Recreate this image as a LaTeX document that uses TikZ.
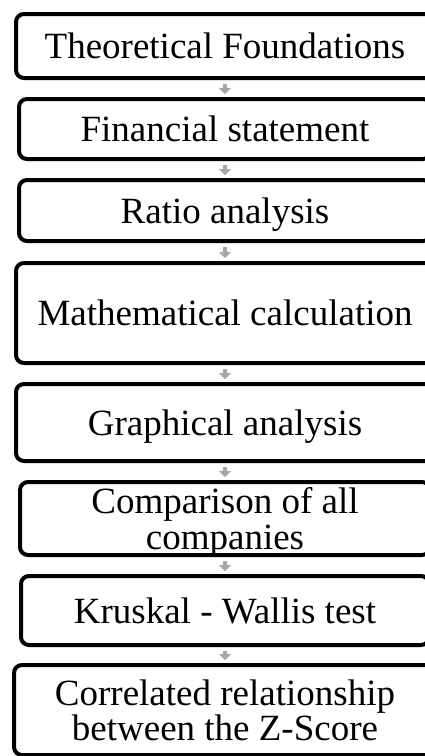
\documentclass[tikz,border=0pt]{standalone}
\usepackage{fontspec}
\setmainfont{Liberation Serif}
\usepackage{tikz}
\usetikzlibrary{
  arrows.meta,
  positioning
}

\begin{document}
\begin{tikzpicture}[x = 0.5pt, y = -0.5pt]
  \tikzset{
    stage/.style = {draw, fill = white, line width = 2pt, rounded corners = 4pt, align = center, inner sep = 0pt, text depth = 0pt, font = \fontsize{18.5}{17.75}\selectfont},
    flow/.style = {-{Triangle[width = 6pt, length = 3pt]}, draw = gray!70, line width = 2pt, shorten < = 2pt, shorten > = 1.5pt}
  }

  \useasboundingbox[fill = white] (0,0) rectangle (424,756);

  % boxes run a little past the right edge
  \node[stage, minimum width = 209pt, minimum height = 32pt]   (theory)    at (225,46)    {Theoretical Foundations};
  \node[stage, minimum width = 206pt, minimum height = 30pt]   (statement) at (225,129)   {Financial statement};
  \node[stage, minimum width = 206pt, minimum height = 30.5pt] (ratio)     at (225,210.5) {Ratio analysis};
  \node[stage, minimum width = 209pt, minimum height = 50pt]   (calc)      at (225,313)   {Mathematical calculation};
  \node[stage, minimum width = 209pt, minimum height = 38.5pt] (graph)     at (225,422.5) {Graphical analysis};
  \node[stage, minimum width = 205pt, minimum height = 36.5pt] (compare)   at (225,518.5) {Comparison of all\\companies};
  \node[stage, minimum width = 204pt, minimum height = 34.5pt] (kruskal)   at (225,610.5) {Kruskal - Wallis test};
  \node[stage, minimum width = 211pt, minimum height = 45pt]   (zscore)    at (225,710)   {Correlated relationship\\between the Z-Score};

  \draw[flow] (theory) -- (statement);
  \draw[flow] (statement) -- (ratio);
  \draw[flow] (ratio) -- (calc);
  \draw[flow] (calc) -- (graph);
  \draw[flow] (graph) -- (compare);
  \draw[flow] (compare) -- (kruskal);
  \draw[flow] (kruskal) -- (zscore);
\end{tikzpicture}
\end{document}
